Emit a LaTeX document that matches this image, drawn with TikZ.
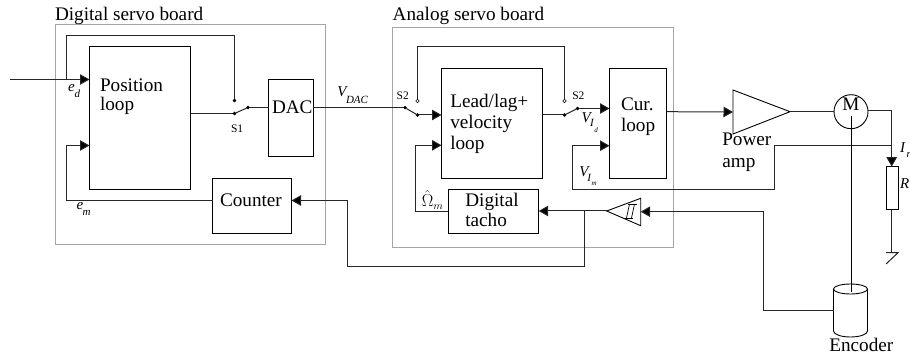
\documentclass[tikz,border=0pt]{standalone}
\usepackage{fontspec}
\setmainfont{Liberation Serif}
\usetikzlibrary{arrows.meta,calc}
\tikzset{
  x=1pt,y=-1pt,
  wire/.style={line width=1pt,draw=black!85,line join=miter},
  arr/.style={wire,-{Triangle[length=9.5pt,width=10.5pt,fill=black]}},
  board/.style={draw=black!35,line width=0.8pt,fill=none,inner sep=0pt,outer sep=0pt},
  block/.style={draw=black,line width=0.9pt,inner sep=0pt,outer sep=0pt},
  txt/.style={anchor=base west,inner sep=0pt,outer sep=0pt,font=\fontsize{19.2}{21}\selectfont},
  small/.style={anchor=base west,inner sep=0pt,outer sep=0pt,font=\fontsize{11.5}{13}\selectfont},
  sym/.style={anchor=base west,inner sep=0pt,outer sep=0pt,font=\fontsize{15}{17}\selectfont\itshape},
  subs/.style={anchor=base west,inner sep=0pt,outer sep=0pt,font=\fontsize{11}{13}\selectfont\itshape},
  subsub/.style={anchor=base west,inner sep=0pt,outer sep=0pt,font=\fontsize{7}{8}\selectfont\itshape},
  pin/.style={circle,draw=black,fill=black,line width=0.4pt,minimum size=3pt,inner sep=0pt,outer sep=0pt},
  pinw/.style={circle,draw=black,fill=white,line width=0.6pt,minimum size=3.4pt,inner sep=0pt,outer sep=0pt},
}
\begin{document}
\begin{tikzpicture}
\useasboundingbox (0,0) rectangle (910,358);
\fill[white] (0,0) rectangle (910,358);
% boards
\draw[board] (55.5,24.5) rectangle (325.5,244.5);
\draw[board] (392.5,27.5) rectangle (673.5,247.5);
\node[txt] (tdig) at (55,20.7) {Digital servo board};
\node[txt] (tana) at (392.7,20.7) {Analog servo board};
% blocks
\node[block,minimum width=101pt,minimum height=142.5pt] (pos) at (140,117.75) {};
\node[block,minimum width=44.5pt,minimum height=76.5pt] (dac) at (290.75,117.75) {};
\node[block,minimum width=79pt,minimum height=54.5pt] (cnt) at (252,205.75) {};
\node[block,minimum width=101pt,minimum height=110pt] (lead) at (492,123.5) {};
\node[block,minimum width=57pt,minimum height=110pt] (cur) at (638,123.5) {};
\node[block,minimum width=90.4pt,minimum height=44pt] (tacho) at (493.5,211.3) {};
\node[block,circle,minimum size=34pt] (mot) at (851,111.7) {};
\node[block,minimum width=11.6pt,minimum height=43.3pt] (res) at (892.5,188.3) {};
% block text
\node[txt] (t1) at (100,91.7) {Position};
\node[txt] (t2) at (100,111) {loop};
\node[txt] (t3) at (272,114) {DAC};
\node[txt] (t4) at (220,207) {Counter};
\node[txt] (t5) at (450.3,107.3) {Lead/lag+};
\node[txt] (t6) at (450.3,128.3) {velocity};
\node[txt] (t7) at (450.3,149.3) {loop};
\node[txt] (t8) at (621,110.7) {Cur.};
\node[txt] (t9) at (621,131.7) {loop};
\node[txt] (t10) at (465.3,206.7) {Digital};
\node[txt] (t11) at (465.3,226) {tacho};
\node[txt] (t12) at (722.3,146) {Power};
\node[txt] (t13) at (722.3,167.3) {amp};
\node[txt,anchor=base] (t14) at (851,110.5) {M};
\node[txt] (t15) at (829.3,351.7) {Encoder};
% amplifier triangles
\coordinate (ampA) at (733,90);
\coordinate (ampB) at (733,134);
\coordinate (ampC) at (790,111.7);
\draw[block,line join=miter] (ampA) -- (ampC) -- (ampB) -- cycle;
\coordinate (stA) at (640.7,198.3);
\coordinate (stB) at (640.7,225.7);
\coordinate (stC) at (606.7,211);
\draw[block,line join=miter] (stA) -- (stC) -- (stB) -- cycle;
\draw[line width=0.7pt] (628,204) -- (637,204);
\draw[line width=0.7pt] (629.5,204) -- (626.5,218);
\draw[line width=0.7pt] (634.5,204) -- (631.5,218);
\draw[line width=0.7pt] (624,218) -- (632.5,218);
% encoder
\coordinate (encL) at (833.5,310.3);
\draw[block] (833.5,289) -- (833.5,331) arc[start angle=180,end angle=360,x radius=17,y radius=-6] -- (867.5,289);
\draw[block] (850.5,289) ellipse[x radius=17,y radius=5];
% switches
\node[pin] (s1a) at (234.5,100.5) {};
\node[pin] (s1b) at (234.5,113.5) {};
\node[pin] (s1c) at (248,107.5) {};
\node[pin] (s2a) at (405,107.7) {};
\node[pinw] (s2b) at (417.5,101) {};
\node[pin] (s2c) at (417.5,115) {};
\node[pinw] (s3a) at (564.5,101) {};
\node[pin] (s3b) at (564.5,115) {};
\node[pin] (s3c) at (577.5,108.5) {};
\draw[wire] (s1b) -- (s1c);
\draw[wire] (s2a) -- (s2c);
\draw[wire] (s3b) -- (s3c);
\node[small] (ls1) at (231,132.7) {S1};
\node[small] (ls2) at (396.7,100) {S2};
\node[small] (ls3) at (572.3,100) {S2};
% connectors: digital board
\coordinate (inp) at (10,79.5);
\coordinate (j1) at (66,79.5);
\draw[arr] (inp) -- (pos.west |- inp);
\draw[wire] (j1) -- (66,35.5) -- (s1a.center |- 0,35.5) -- (s1a);
\draw[wire] (pos.east |- s1b) -- (s1b);
\draw[wire] (s1c) -- (dac.west |- s1c);
\coordinate (fbm) at (66,200.5);
\draw[arr] (cnt.west |- fbm) -- (fbm) -- (66,145.5) -- (pos.west |- 0,145.5);
% DAC to analog
\draw[wire] (dac.east |- s2a) -- (s2a);
\draw[arr] (s2c) -- (lead.west |- s2c);
\draw[wire] (s2b) -- (417.5,46.5) -- (s3a.center |- 0,46.5) -- (s3a);
\draw[wire] (lead.east |- s3b) -- (s3b);
\draw[arr] (s3c) -- (cur.west |- s3c);
\draw[arr] (tacho.west) -- (415,211.3) -- (415,145.3) -- (lead.west |- 0,145.3);
% current loop to motor
\draw[arr] (cur.east |- ampC) -- ($(ampA)!0.5!(ampB)$);
\draw[wire] (ampC) -- (mot.west);
\coordinate (mr) at (891.7,110.8);
\draw[wire] (mot.east |- mr) -- (mr);
\draw[arr] (mr) -- (res.north -| mr);
\draw[wire] (res.south -| mr) -- (891.7,252.7);
\draw[wire] (886,252.7) -- (898,252.7) -- (886,264);
\coordinate (jI) at (891.7,145.7);
\draw[arr] (jI) -- (774.7,145.7) -- (774.7,189.3) -- (572,189.3) -- (572,145.7) -- (cur.west |- jI);
% tacho and counter
\coordinate (jT) at (584,211);
\draw[arr] (stC) -- (tacho.east |- stC);
\draw[arr] (jT) -- (584,266) -- (347,266) -- (347,200.5) -- (cnt.east |- 0,200.5);
% encoder
\draw[arr] (encL) -- (763.3,310.3) -- (763.3,211.7) -- (stB |- 0,211.7);
\draw[wire,line width=1pt,draw=black] (851,116) -- (851,291.7);
% labels
\node[sym] (ed) at (68,91.7) {e}; \node[subs] (edd) at (74.5,97.7) {d};
\node[sym] (em) at (76.7,210) {e}; \node[subs] (emm) at (82.7,215.7) {m};
\node[sym] (vd) at (337.3,96.7) {V}; \node[subs] (vdd) at (346,104) {DAC};
\node[sym] (vi) at (581.7,122.7) {V}; \node[subs] (vii) at (590,126.7) {I}; \node[subsub] (viii) at (594.3,132.7) {d};
\node[sym] (vm) at (579.3,176.7) {V}; \node[subs] (vmm) at (587.3,181.7) {I}; \node[subsub] (vmmm) at (591.7,186) {m};
\node[sym] (in) at (900,152.7) {I}; \node[subs] (inn) at (906.7,157.3) {n};
\node[sym] (rr) at (900,188.3) {R};
\node[anchor=base west,inner sep=0pt,font=\fontsize{16}{18}\selectfont] (om) at (421.7,206.7) {$\hat{\Omega}_m$};
\end{tikzpicture}
\end{document}
